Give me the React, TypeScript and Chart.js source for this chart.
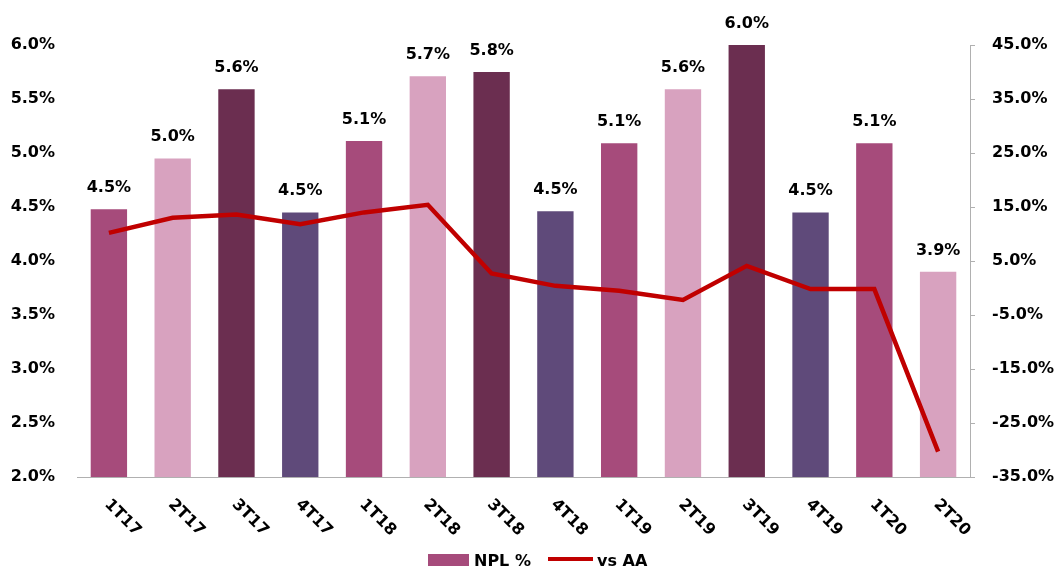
import React, { useEffect, useRef } from "react";
import { Chart, registerables } from "chart.js";

Chart.register(...registerables);

const categories = ["1T17", "2T17", "3T17", "4T17", "1T18", "2T18", "3T18", "4T18", "1T19", "2T19", "3T19", "4T19", "1T20", "2T20"];
const nplValues = [4.48, 4.95, 5.59, 4.45, 5.11, 5.71, 5.75, 4.46, 5.09, 5.59, 6.0, 4.45, 5.09, 3.9];
const nplLabels = ["4.5%", "5.0%", "5.6%", "4.5%", "5.1%", "5.7%", "5.8%", "4.5%", "5.1%", "5.6%", "6.0%", "4.5%", "5.1%", "3.9%"];
const vsAAValues = [10.2, 13.0, 13.6, 11.8, 14.0, 15.4, 2.7, 0.4, -0.5, -2.2, 4.1, -0.2, -0.2, -30.3];
const quarterColors = ["#A64B7B", "#D8A2BF", "#6B2E50", "#5F4A7A"];

const FONT = "'DejaVu Sans', sans-serif";

const customDraw = {
  id: "customDraw",
  afterDatasetsDraw(chart: any) {
    const ctx = chart.ctx;
    const meta = chart.getDatasetMeta(0);
    ctx.save();
    ctx.font = `bold 16px ${FONT}`;
    ctx.fillStyle = "#000";
    ctx.textAlign = "center";
    ctx.textBaseline = "alphabetic";
    meta.data.forEach((bar: any, i: number) => {
      ctx.fillText(nplLabels[i], bar.x, bar.y - 17);
    });
    ctx.restore();
  },
  afterDraw(chart: any) {
    const ctx = chart.ctx;
    const xScale = chart.scales.x;
    const bottom = chart.chartArea.bottom;
    ctx.save();
    ctx.font = `bold 16px ${FONT}`;
    ctx.fillStyle = "#000";
    ctx.textAlign = "left";
    ctx.textBaseline = "middle";
    categories.forEach((c, i) => {
      const x = xScale.getPixelForValue(i);
      ctx.save();
      ctx.translate(x - 2, bottom + 25);
      ctx.rotate(Math.PI / 4);
      ctx.fillText(c, 0, 0);
      ctx.restore();
    });
    // legend
    ctx.fillStyle = quarterColors[0];
    ctx.fillRect(428, 554, 41, 14);
    ctx.fillStyle = "#000";
    ctx.textBaseline = "alphabetic";
    ctx.fillText("NPL %", 474, 566);
    ctx.strokeStyle = "#C00000";
    ctx.lineWidth = 4;
    ctx.beginPath();
    ctx.moveTo(548, 559);
    ctx.lineTo(593, 559);
    ctx.stroke();
    ctx.fillText("vs AA", 597, 566);
    ctx.restore();
  },
};

export default function App() {
  const ref = useRef<HTMLCanvasElement>(null);
  useEffect(() => {
    if (!ref.current) return;
    const chart = new Chart(ref.current, {
      type: "bar",
      data: {
        labels: categories,
        datasets: [
          {
            type: "bar",
            label: "NPL %",
            data: nplValues,
            backgroundColor: categories.map((_, i) => quarterColors[i % 4]),
            yAxisID: "y",
            order: 1,
            categoryPercentage: 1,
            barPercentage: 0.57,
          },
          {
            type: "line",
            label: "vs AA",
            data: vsAAValues,
            borderColor: "#C00000",
            borderWidth: 4.5,
            pointRadius: 0,
            tension: 0,
            yAxisID: "y1",
            order: 0,
          } as any,
        ],
      },
      options: {
        responsive: false,
        animation: false,
        layout: { padding: { top: 45, left: 0, right: 0, bottom: 0 } },
        plugins: { legend: { display: false }, tooltip: { enabled: false } },
        scales: {
          x: {
            grid: { display: false },
            border: { display: true, color: "#B0B0B0", width: 1 },
            ticks: { display: false },
            afterFit: (s: any) => {
              s.height = 89;
            },
          },
          y: {
            position: "left",
            min: 2,
            max: 6,
            grid: { display: false, drawTicks: false },
            border: { display: false },
            ticks: {
              stepSize: 0.5,
              padding: 22,
              color: "#000",
              font: { family: FONT, size: 16, weight: "bold" },
              callback: (v: any) => Number(v).toFixed(1) + "%",
            },
            afterFit: (s: any) => {
              s.width = 77;
            },
          },
          y1: {
            position: "right",
            min: -35,
            max: 45,
            grid: { display: true, drawOnChartArea: false, drawTicks: true, tickLength: 5, color: "#B0B0B0" },
            border: { display: true, color: "#B0B0B0", width: 1 },
            ticks: {
              stepSize: 10,
              padding: 17,
              color: "#000",
              font: { family: FONT, size: 16, weight: "bold" },
              callback: (v: any) => Number(v).toFixed(1) + "%",
            },
            afterFit: (s: any) => {
              s.width = 85;
            },
          },
        },
      },
      plugins: [customDraw],
    });
    return () => chart.destroy();
  }, []);
  return (
    <div style={{ position: "absolute", left: 0, top: 0, width: 1055, height: 566, background: "#fff" }}>
      <canvas ref={ref} width={1055} height={566} style={{ display: "block" }} />
    </div>
  );
}
